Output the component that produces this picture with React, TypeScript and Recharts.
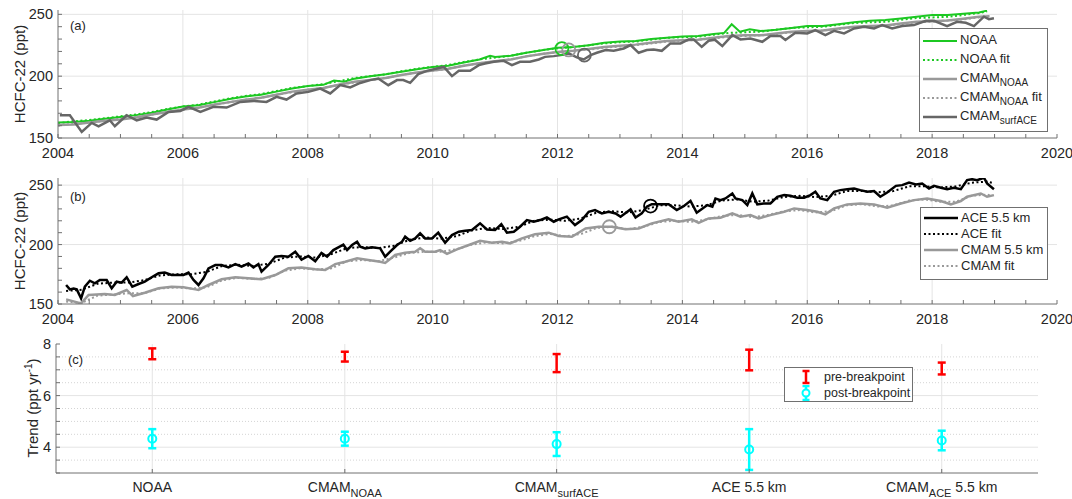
import React from 'react';
import { ComposedChart, Line, Scatter, ErrorBar, XAxis, YAxis, ReferenceLine } from 'recharts';

type Pt = [number, number];

const FONT = '"Liberation Sans", Arial, Helvetica, sans-serif';
const INK = '#262626';
const AXIS = '#707070';
const GRID = '#e4e4e4';
const GREEN = '#1cc822';
const LIGHT = '#999999';
const DARK = '#666666';
const RED = '#ff0000';
const CYAN = '#00ffff';

// ---- panel (a): surface HCFC-22 ----
const noaa: Pt[] = [
  [2004.0, 162.5], [2004.25, 163.0], [2004.5, 164.0], [2004.75, 165.5], [2005.0, 167.0], [2005.25, 168.5],
  [2005.5, 170.5], [2005.75, 173.0], [2006.0, 175.5], [2006.25, 176.5], [2006.5, 179.0], [2006.75, 181.5],
  [2007.0, 183.5], [2007.25, 185.0], [2007.5, 187.5], [2007.75, 190.0], [2008.0, 192.0], [2008.25, 193.0],
  [2008.42, 196.5], [2008.58, 195.5], [2008.75, 198.0], [2009.0, 200.0], [2009.25, 201.5], [2009.5, 203.5],
  [2009.75, 205.5], [2010.0, 207.5], [2010.25, 208.5], [2010.5, 211.0], [2010.75, 213.5], [2010.92, 216.5],
  [2011.0, 215.5], [2011.25, 216.5], [2011.5, 219.0], [2011.75, 221.0], [2012.0, 223.0], [2012.25, 223.5],
  [2012.5, 225.0], [2012.75, 227.0], [2013.0, 228.0], [2013.25, 228.5], [2013.5, 230.0], [2013.75, 231.0],
  [2014.0, 232.0], [2014.25, 232.5], [2014.5, 234.0], [2014.67, 235.0], [2014.79, 242.0], [2014.92, 236.0],
  [2015.08, 238.0], [2015.25, 236.5], [2015.5, 237.5], [2015.75, 239.0], [2016.0, 240.5], [2016.25, 240.5],
  [2016.5, 242.0], [2016.75, 243.5], [2017.0, 244.8], [2017.25, 245.5], [2017.5, 246.7], [2017.75, 248.0],
  [2018.0, 249.4], [2018.25, 249.5], [2018.5, 250.5], [2018.75, 251.5], [2018.88, 253.0],
];
const noaaFit: Pt[] = [
  [2004.0, 162.0], [2004.25, 163.5], [2004.5, 164.5], [2004.75, 166.0], [2005.0, 167.5], [2005.25, 169.0],
  [2005.5, 171.0], [2005.75, 173.5], [2006.0, 175.5], [2006.25, 177.0], [2006.5, 179.5], [2006.75, 182.0],
  [2007.0, 184.0], [2007.25, 185.5], [2007.5, 188.0], [2007.75, 190.5], [2008.0, 192.0], [2008.25, 193.5],
  [2008.5, 196.0], [2008.75, 198.5], [2009.0, 200.0], [2009.25, 201.5], [2009.5, 204.0], [2009.75, 206.0],
  [2010.0, 207.5], [2010.25, 209.0], [2010.5, 211.5], [2010.75, 213.5], [2011.0, 215.0], [2011.25, 216.5],
  [2011.5, 219.0], [2011.75, 221.0], [2012.0, 222.5], [2012.25, 223.5], [2012.5, 225.0], [2012.75, 226.5],
  [2013.0, 227.5], [2013.25, 228.0], [2013.5, 229.5], [2013.75, 231.0], [2014.0, 231.5], [2014.25, 232.0],
  [2014.5, 233.5], [2014.75, 235.0], [2015.0, 235.5], [2015.25, 236.0], [2015.5, 237.5], [2015.75, 239.0],
  [2016.0, 239.5], [2016.25, 240.0], [2016.5, 241.5], [2016.75, 243.0], [2017.0, 243.5], [2017.25, 244.0],
  [2017.5, 245.5], [2017.75, 247.0], [2018.0, 247.5], [2018.25, 248.0], [2018.5, 249.5], [2018.75, 251.0],
  [2018.88, 252.5],
];
const cmamNoaa: Pt[] = [
  [2004.0, 160.5], [2004.25, 161.0], [2004.5, 162.5], [2004.75, 164.0], [2005.0, 165.0], [2005.25, 166.5],
  [2005.5, 169.0], [2005.75, 171.0], [2006.0, 173.0], [2006.25, 174.5], [2006.5, 177.0], [2006.75, 179.0],
  [2007.0, 181.0], [2007.25, 182.5], [2007.5, 185.0], [2007.75, 187.5], [2008.0, 189.0], [2008.25, 190.5],
  [2008.5, 193.0], [2008.75, 195.5], [2009.0, 197.0], [2009.25, 198.5], [2009.5, 201.0], [2009.75, 203.0],
  [2010.0, 204.5], [2010.25, 206.0], [2010.5, 208.5], [2010.75, 210.5], [2011.0, 212.0], [2011.25, 213.5],
  [2011.5, 216.0], [2011.75, 218.0], [2012.0, 219.5], [2012.25, 220.5], [2012.5, 222.0], [2012.75, 223.5],
  [2013.0, 224.5], [2013.25, 225.5], [2013.5, 227.0], [2013.75, 228.5], [2014.0, 229.0], [2014.25, 229.5],
  [2014.5, 231.0], [2014.75, 232.5], [2015.0, 233.0], [2015.25, 233.0], [2015.5, 234.5], [2015.75, 236.0],
  [2016.0, 236.5], [2016.25, 237.0], [2016.5, 238.5], [2016.75, 240.0], [2017.0, 240.5], [2017.25, 241.0],
  [2017.5, 242.5], [2017.75, 244.0], [2018.0, 244.5], [2018.25, 245.0], [2018.5, 246.5], [2018.75, 248.0],
  [2018.92, 248.5],
];
const cmamNoaaFit: Pt[] = [
  [2004.0, 160.0], [2004.25, 161.5], [2004.5, 162.5], [2004.75, 164.0], [2005.0, 165.5], [2005.25, 167.0],
  [2005.5, 169.0], [2005.75, 171.0], [2006.0, 173.0], [2006.25, 174.5], [2006.5, 177.0], [2006.75, 179.0],
  [2007.0, 181.0], [2007.25, 182.5], [2007.5, 185.0], [2007.75, 187.0], [2008.0, 189.0], [2008.25, 190.5],
  [2008.5, 193.0], [2008.75, 195.0], [2009.0, 197.0], [2009.25, 198.5], [2009.5, 201.0], [2009.75, 203.0],
  [2010.0, 204.5], [2010.25, 206.0], [2010.5, 208.5], [2010.75, 210.5], [2011.0, 212.0], [2011.25, 213.5],
  [2011.5, 216.0], [2011.75, 218.0], [2012.0, 219.5], [2012.25, 220.5], [2012.5, 221.5], [2012.75, 223.0],
  [2013.0, 224.0], [2013.25, 225.0], [2013.5, 226.5], [2013.75, 228.0], [2014.0, 228.5], [2014.25, 229.5],
  [2014.5, 230.5], [2014.75, 232.0], [2015.0, 232.5], [2015.25, 233.0], [2015.5, 234.0], [2015.75, 235.5],
  [2016.0, 236.0], [2016.25, 237.0], [2016.5, 238.0], [2016.75, 239.5], [2017.0, 240.0], [2017.25, 241.0],
  [2017.5, 242.0], [2017.75, 243.5], [2018.0, 244.0], [2018.25, 245.0], [2018.5, 246.0], [2018.75, 247.5],
  [2018.92, 248.0],
];
const cmamSurfAce: Pt[] = [
  [2004.03, 168.4], [2004.19, 168.4], [2004.38, 154.9], [2004.54, 162.2], [2004.65, 159.5], [2004.83, 164.3],
  [2004.91, 159.5], [2005.1, 168.4], [2005.26, 164.3], [2005.42, 166.5], [2005.58, 164.9], [2005.77, 171.1],
  [2005.96, 171.9], [2006.09, 175.2], [2006.28, 171.1], [2006.49, 175.2], [2006.7, 174.6], [2006.92, 179.2],
  [2007.13, 180.0], [2007.34, 179.2], [2007.5, 183.3], [2007.66, 181.1], [2007.82, 186.0], [2008.01, 187.3],
  [2008.2, 190.0], [2008.36, 186.0], [2008.52, 192.8], [2008.68, 190.9], [2008.84, 194.5], [2009.0, 196.8],
  [2009.13, 198.1], [2009.29, 192.7], [2009.43, 196.8], [2009.53, 196.8], [2009.64, 194.6], [2009.77, 201.6],
  [2009.91, 204.3], [2010.07, 206.2], [2010.18, 207.5], [2010.31, 200.0], [2010.42, 204.3], [2010.6, 204.3],
  [2010.74, 208.9], [2010.84, 210.3], [2010.98, 211.6], [2011.14, 212.4], [2011.27, 208.9], [2011.4, 211.6],
  [2011.56, 211.6], [2011.7, 213.5], [2011.8, 215.6], [2011.94, 216.2], [2012.05, 217.0], [2012.18, 218.4],
  [2012.31, 215.2], [2012.42, 213.5], [2012.53, 217.0], [2012.63, 218.9], [2012.77, 221.1], [2012.9, 220.5],
  [2013.06, 222.4], [2013.17, 225.1], [2013.3, 218.9], [2013.43, 221.1], [2013.54, 221.6], [2013.67, 220.5],
  [2013.81, 226.5], [2013.97, 226.5], [2014.1, 229.7], [2014.18, 229.7], [2014.31, 223.7], [2014.42, 228.6],
  [2014.52, 229.5], [2014.64, 224.3], [2014.8, 233.2], [2014.93, 229.7], [2015.09, 230.5], [2015.28, 227.8],
  [2015.41, 232.4], [2015.57, 232.4], [2015.65, 229.2], [2015.81, 235.1], [2016.0, 234.6], [2016.13, 237.3],
  [2016.29, 233.2], [2016.43, 236.7], [2016.59, 234.6], [2016.75, 238.6], [2016.91, 240.0], [2017.07, 238.6],
  [2017.2, 241.3], [2017.36, 238.6], [2017.52, 240.5], [2017.71, 241.3], [2017.9, 244.8], [2018.03, 244.8],
  [2018.24, 240.5], [2018.4, 244.0], [2018.54, 243.2], [2018.67, 240.5], [2018.83, 248.1], [2018.91, 246.0],
  [2018.99, 246.8],
];
const noaaBreak: Pt = [2012.07, 222.3];
const cmamNoaaBreak: Pt = [2012.18, 221.2];
const cmamSurfAceBreak: Pt = [2012.43, 217.0];

// ---- panel (b): 5.5 km HCFC-22 ----
const ace: Pt[] = [
  [2004.13, 166.0], [2004.19, 162.3], [2004.25, 163.0], [2004.3, 162.3], [2004.37, 154.7], [2004.43, 164.6],
  [2004.51, 169.6], [2004.59, 167.4], [2004.67, 170.2], [2004.78, 170.2], [2004.86, 163.2], [2004.94, 168.8],
  [2005.02, 168.0], [2005.1, 172.5], [2005.19, 164.6], [2005.29, 166.8], [2005.39, 168.8], [2005.5, 172.5],
  [2005.61, 175.8], [2005.71, 176.4], [2005.82, 174.4], [2005.93, 174.4], [2006.01, 174.4], [2006.09, 176.4],
  [2006.17, 170.2], [2006.25, 166.0], [2006.33, 171.6], [2006.41, 180.0], [2006.52, 182.8], [2006.62, 182.8],
  [2006.73, 180.8], [2006.84, 183.6], [2006.94, 181.4], [2007.05, 184.2], [2007.13, 180.8], [2007.21, 183.6],
  [2007.26, 177.2], [2007.37, 182.8], [2007.48, 189.8], [2007.58, 190.4], [2007.69, 189.8], [2007.8, 194.0],
  [2007.9, 187.4], [2008.01, 190.4], [2008.12, 186.0], [2008.22, 193.0], [2008.31, 189.8], [2008.41, 195.4],
  [2008.49, 197.7], [2008.57, 200.0], [2008.63, 195.4], [2008.71, 199.6], [2008.79, 202.4], [2008.84, 198.2],
  [2008.92, 196.8], [2009.03, 197.7], [2009.16, 196.8], [2009.24, 189.8], [2009.32, 194.0], [2009.43, 199.6],
  [2009.51, 202.4], [2009.56, 206.6], [2009.64, 203.2], [2009.72, 205.2], [2009.8, 209.4], [2009.88, 205.2],
  [2009.99, 205.2], [2010.09, 210.0], [2010.2, 201.6], [2010.31, 208.0], [2010.42, 210.8], [2010.52, 211.6],
  [2010.63, 212.2], [2010.76, 217.8], [2010.87, 212.7], [2011.0, 212.2], [2011.1, 217.2], [2011.19, 210.0],
  [2011.3, 210.8], [2011.4, 215.0], [2011.51, 220.6], [2011.62, 219.2], [2011.72, 220.6], [2011.83, 222.8],
  [2011.94, 219.2], [2012.02, 221.2], [2012.15, 223.5], [2012.28, 216.4], [2012.39, 220.6], [2012.5, 227.6],
  [2012.6, 229.0], [2012.71, 226.2], [2012.82, 227.6], [2012.93, 226.2], [2013.01, 223.4], [2013.08, 226.2],
  [2013.17, 229.6], [2013.25, 222.8], [2013.35, 226.2], [2013.43, 231.8], [2013.51, 234.0], [2013.62, 234.0],
  [2013.78, 234.0], [2013.91, 229.0], [2014.02, 232.3], [2014.13, 236.8], [2014.23, 226.8], [2014.29, 229.0],
  [2014.4, 233.2], [2014.48, 231.8], [2014.53, 238.8], [2014.61, 237.4], [2014.69, 238.8], [2014.8, 243.0],
  [2014.85, 238.8], [2014.96, 237.4], [2015.04, 233.2], [2015.12, 243.0], [2015.2, 233.8], [2015.3, 234.6],
  [2015.41, 234.6], [2015.52, 240.2], [2015.63, 241.6], [2015.73, 241.0], [2015.84, 239.4], [2015.95, 239.4],
  [2016.05, 241.6], [2016.13, 244.4], [2016.21, 238.8], [2016.32, 237.4], [2016.43, 244.4], [2016.53, 245.8],
  [2016.64, 246.6], [2016.75, 247.2], [2016.85, 245.8], [2016.96, 244.4], [2017.07, 245.0], [2017.17, 240.2],
  [2017.28, 243.8], [2017.42, 249.4], [2017.52, 250.0], [2017.63, 252.2], [2017.74, 250.6], [2017.84, 251.4],
  [2017.95, 247.2], [2018.03, 249.4], [2018.14, 247.8], [2018.24, 246.6], [2018.35, 247.8], [2018.46, 246.6],
  [2018.56, 254.2], [2018.64, 255.0], [2018.72, 254.2], [2018.83, 256.2], [2018.88, 251.4], [2018.99, 246.6],
];
const aceFit: Pt[] = [
  [2004.13, 161.0], [2004.38, 162.0], [2004.63, 167.0], [2004.88, 168.0], [2005.13, 168.0], [2005.38, 170.0],
  [2005.63, 174.0], [2005.88, 175.0], [2006.13, 175.0], [2006.38, 177.0], [2006.63, 182.0], [2006.88, 183.0],
  [2007.13, 182.0], [2007.38, 184.0], [2007.63, 189.0], [2007.88, 190.0], [2008.13, 189.0], [2008.38, 192.0],
  [2008.63, 197.0], [2008.88, 198.0], [2009.13, 197.0], [2009.38, 199.0], [2009.63, 204.0], [2009.88, 206.0],
  [2010.13, 205.0], [2010.38, 207.0], [2010.63, 212.0], [2010.88, 214.0], [2011.13, 213.0], [2011.38, 215.0],
  [2011.63, 220.0], [2011.88, 221.0], [2012.13, 220.0], [2012.38, 222.0], [2012.63, 227.0], [2012.88, 228.0],
  [2013.13, 227.0], [2013.38, 229.0], [2013.63, 233.0], [2013.88, 233.0], [2014.13, 232.0], [2014.38, 233.0],
  [2014.63, 237.0], [2014.88, 238.0], [2015.13, 236.0], [2015.38, 237.0], [2015.63, 240.0], [2015.88, 241.0],
  [2016.13, 240.0], [2016.38, 241.0], [2016.63, 245.0], [2016.88, 245.0], [2017.13, 244.0], [2017.38, 245.0],
  [2017.63, 249.0], [2017.88, 249.0], [2018.13, 248.0], [2018.38, 249.0], [2018.63, 252.0], [2018.88, 253.0],
  [2018.96, 252.0],
];
const cmam55: Pt[] = [
  [2004.13, 153.9], [2004.37, 150.5], [2004.49, 157.6], [2004.75, 158.4], [2004.91, 157.6], [2005.1, 161.8],
  [2005.2, 156.7], [2005.39, 159.5], [2005.61, 163.2], [2005.82, 164.6], [2006.01, 164.0], [2006.2, 162.3],
  [2006.25, 161.8], [2006.41, 166.0], [2006.62, 170.8], [2006.84, 172.5], [2007.05, 171.6], [2007.26, 170.8],
  [2007.48, 174.4], [2007.69, 180.0], [2007.9, 180.8], [2008.12, 179.2], [2008.28, 178.6], [2008.44, 183.6],
  [2008.6, 185.6], [2008.79, 188.4], [2008.97, 187.0], [2009.16, 185.6], [2009.24, 184.5], [2009.4, 191.2],
  [2009.56, 193.2], [2009.72, 194.0], [2009.8, 196.9], [2009.88, 194.0], [2010.04, 194.0], [2010.12, 195.4],
  [2010.23, 192.1], [2010.39, 196.0], [2010.58, 199.6], [2010.76, 203.2], [2010.95, 201.6], [2011.11, 202.4],
  [2011.24, 201.0], [2011.43, 205.2], [2011.64, 208.6], [2011.86, 210.0], [2012.02, 207.2], [2012.23, 206.6],
  [2012.45, 213.6], [2012.66, 215.0], [2012.87, 215.0], [2013.09, 212.8], [2013.3, 213.6], [2013.51, 217.8],
  [2013.78, 221.2], [2013.94, 219.2], [2014.15, 221.2], [2014.26, 218.3], [2014.42, 222.0], [2014.61, 222.6],
  [2014.8, 226.2], [2014.93, 223.4], [2015.09, 224.8], [2015.22, 222.0], [2015.41, 224.8], [2015.63, 227.6],
  [2015.79, 230.4], [2016.0, 229.0], [2016.16, 227.6], [2016.29, 225.4], [2016.43, 230.4], [2016.64, 233.8],
  [2016.85, 234.6], [2017.07, 233.8], [2017.28, 231.0], [2017.5, 234.6], [2017.71, 237.4], [2017.92, 238.8],
  [2018.14, 236.6], [2018.3, 233.8], [2018.46, 236.6], [2018.56, 240.2], [2018.78, 243.0], [2018.88, 240.2],
  [2018.99, 241.6],
];
const cmamFit: Pt[] = [
  [2004.13, 152.0], [2004.38, 151.0], [2004.63, 157.0], [2004.88, 158.0], [2005.13, 159.0], [2005.38, 159.0],
  [2005.63, 163.0], [2005.88, 164.0], [2006.13, 163.0], [2006.38, 164.0], [2006.63, 170.0], [2006.88, 172.0],
  [2007.13, 171.0], [2007.38, 172.0], [2007.63, 178.0], [2007.88, 180.0], [2008.13, 179.0], [2008.38, 180.0],
  [2008.63, 186.0], [2008.88, 187.0], [2009.13, 186.0], [2009.38, 189.0], [2009.63, 193.0], [2009.88, 194.0],
  [2010.13, 194.0], [2010.38, 196.0], [2010.63, 200.0], [2010.88, 202.0], [2011.13, 201.0], [2011.38, 203.0],
  [2011.63, 207.0], [2011.88, 209.0], [2012.13, 207.0], [2012.38, 209.0], [2012.63, 214.0], [2012.88, 215.0],
  [2013.13, 213.0], [2013.38, 215.0], [2013.63, 219.0], [2013.88, 220.0], [2014.13, 219.0], [2014.38, 221.0],
  [2014.63, 224.0], [2014.88, 225.0], [2015.13, 223.0], [2015.38, 225.0], [2015.63, 228.0], [2015.88, 229.0],
  [2016.13, 227.0], [2016.38, 228.0], [2016.63, 233.0], [2016.88, 234.0], [2017.13, 232.0], [2017.38, 233.0],
  [2017.63, 237.0], [2017.88, 238.0], [2018.13, 236.0], [2018.38, 236.0], [2018.63, 241.0], [2018.88, 242.0],
  [2018.96, 241.0],
];
const aceBreak: Pt = [2013.49, 232.4];
const cmamBreak: Pt = [2012.83, 215.0];

// ---- panel (c): trends ----
const categoryPos = [1, 2, 3.1, 4.1, 5.1];
const categoryLabels: [string, string, string][] = [
  ['NOAA', '', ''],
  ['CMAM', 'NOAA', ''],
  ['CMAM', 'surfACE', ''],
  ['ACE 5.5 km', '', ''],
  ['CMAM', 'ACE', ' 5.5 km'],
];
const preTrend = [7.62, 7.51, 7.26, 7.38, 7.05];
const preErr = [0.21, 0.19, 0.35, 0.4, 0.23];
const postTrend = [4.33, 4.33, 4.12, 3.91, 4.26];
const postErr = [0.37, 0.27, 0.46, 0.79, 0.38];

// axis ticks
const yearMajor = [2004, 2006, 2008, 2010, 2012, 2014, 2016, 2018, 2020];
const yearMinor = Array.from({ length: 33 }, (_, i) => 2004 + i * 0.5);
const pptTicks = [150, 160, 170, 180, 190, 200, 210, 220, 230, 240, 250];
const pptLabeled = [150, 200, 250];
const trendTicks = [3, 3.5, 4, 4.5, 5, 5.5, 6, 6.5, 7, 7.5, 8];
const trendLabeled = [4, 6, 8];

type Series = {
  key: string;
  label: React.ReactNode;
  pts: Pt[];
  color: string;
  width: number;
  dotted?: boolean;
  brk?: Pt;
};

const Sub = ({ children }: { children: React.ReactNode }) => (
  <span style={{ fontSize: 10, position: 'relative', top: 4 }}>{children}</span>
);

const seriesA: Series[] = [
  { key: 'noaa', label: 'NOAA', pts: noaa, color: GREEN, width: 2, brk: noaaBreak },
  { key: 'noaaFit', label: 'NOAA fit', pts: noaaFit, color: GREEN, width: 2, dotted: true },
  { key: 'cmamNoaa', label: <>CMAM<Sub>NOAA</Sub></>, pts: cmamNoaa, color: LIGHT, width: 2.5, brk: cmamNoaaBreak },
  { key: 'cmamNoaaFit', label: <>CMAM<Sub>NOAA</Sub> fit</>, pts: cmamNoaaFit, color: LIGHT, width: 2, dotted: true },
  { key: 'cmamSurf', label: <>CMAM<Sub>surfACE</Sub></>, pts: cmamSurfAce, color: DARK, width: 2.5, brk: cmamSurfAceBreak },
];

const seriesB: Series[] = [
  { key: 'ace', label: 'ACE 5.5 km', pts: ace, color: '#000000', width: 2.5, brk: aceBreak },
  { key: 'aceFit', label: 'ACE fit', pts: aceFit, color: '#000000', width: 2, dotted: true },
  { key: 'cmam55', label: 'CMAM 5.5 km', pts: cmam55, color: LIGHT, width: 2.5, brk: cmamBreak },
  { key: 'cmamFit', label: 'CMAM fit', pts: cmamFit, color: LIGHT, width: 2, dotted: true },
];

const toRows = (pts: Pt[]) => pts.map(([t, v]) => ({ t, v }));
const tickFont = { fill: INK, fontSize: 14.5, fontFamily: FONT };

function TimePanel({
  top, height, plotTop, plotBottom, yMax, series,
}: { top: number; height: number; plotTop: number; plotBottom: number; yMax: number; series: Series[] }) {
  return (
    <div style={{ position: 'absolute', left: 0, top }}>
      <ComposedChart width={1072} height={height} margin={{ top: plotTop, right: 15, bottom: 0, left: 0 }}>
        <XAxis
          xAxisId="b" type="number" dataKey="t" domain={[2004, 2020]} allowDataOverflow
          ticks={yearMinor} interval={0} tickFormatter={(v) => (yearMajor.includes(v) ? String(v) : '')}
          height={height - plotBottom} tickSize={-4} tickMargin={14} stroke={AXIS} tick={tickFont}
        />
        <XAxis
          xAxisId="t" orientation="top" type="number" dataKey="t" domain={[2004, 2020]} allowDataOverflow
          ticks={yearMinor} interval={0} tick={false} height={0} tickSize={-4} stroke={AXIS}
        />
        <YAxis
          yAxisId="l" type="number" domain={[150, yMax]} allowDataOverflow ticks={pptTicks} interval={0}
          tickFormatter={(v) => (pptLabeled.includes(v) ? String(v) : '')}
          width={58} tickSize={-4} tickMargin={9} stroke={AXIS} tick={tickFont}
        />
        <YAxis
          yAxisId="r" orientation="right" type="number" domain={[150, yMax]} allowDataOverflow ticks={pptTicks}
          interval={0} tick={false} width={0} tickSize={-4} stroke={AXIS}
        />
        {yearMajor.slice(1, -1).map((yr) => (
          <ReferenceLine key={yr} xAxisId="b" yAxisId="l" x={yr} stroke={GRID} />
        ))}
        {[200, 250].map((v) => (
          <ReferenceLine key={v} xAxisId="b" yAxisId="l" y={v} stroke={GRID} />
        ))}
        {series.map((s) => (
          <Line
            key={s.key} xAxisId="b" yAxisId="l" data={toRows(s.pts)} dataKey="v" type="linear"
            stroke={s.color} strokeWidth={s.width} strokeDasharray={s.dotted ? '2 2.5' : undefined}
            dot={false} activeDot={false} isAnimationActive={false}
          />
        ))}
        {series.filter((s) => s.brk).map((s) => (
          <Line
            key={s.key + 'Brk'} xAxisId="b" yAxisId="l" data={toRows([s.brk as Pt])} dataKey="v"
            stroke="none" dot={{ r: 6.5, stroke: s.color, strokeWidth: 1.8, fill: 'none' }}
            activeDot={false} isAnimationActive={false}
          />
        ))}
      </ComposedChart>
    </div>
  );
}

function LegendBox({
  left, top, width, rowH, items,
}: { left: number; top: number; width: number; rowH: number; items: Series[] }) {
  return (
    <div
      style={{
        position: 'absolute', left, top, width, background: '#fff', border: `1px solid ${AXIS}`,
        fontFamily: FONT, fontSize: 13, color: INK, padding: '2px 0 5px 0', boxSizing: 'border-box',
      }}
    >
      {items.map((s) => (
        <div key={s.key} style={{ display: 'flex', alignItems: 'center', height: rowH, whiteSpace: 'nowrap' }}>
          <svg width={36} height={10} style={{ marginLeft: 3, marginRight: 1, flex: 'none' }}>
            <line
              x1={0} y1={5} x2={34} y2={5} stroke={s.color} strokeWidth={s.width}
              strokeDasharray={s.dotted ? '2 2.5' : undefined}
            />
          </svg>
          <span style={{ position: 'relative', top: -1 }}>{s.label}</span>
        </div>
      ))}
    </div>
  );
}

const CategoryTick = (props: any) => {
  const { x, y, payload } = props;
  const idx = categoryPos.indexOf(payload.value);
  if (idx < 0) return null;
  const [main, sub, tail] = categoryLabels[idx];
  return (
    <text x={x} y={y + 19} textAnchor="middle" fill={INK} fontSize={14} fontFamily={FONT}>
      <tspan>{main}</tspan>
      {sub ? <tspan dy={5} fontSize={11}>{sub}</tspan> : null}
      {tail ? <tspan dy={-5}>{tail}</tspan> : null}
    </text>
  );
};

function TrendPanel() {
  const pre = categoryPos.map((x, i) => ({ x, y: preTrend[i], e: preErr[i] }));
  const post = categoryPos.map((x, i) => ({ x, y: postTrend[i], e: postErr[i] }));
  return (
    <div style={{ position: 'absolute', left: 0, top: 330 }}>
      <ComposedChart width={1072} height={169} margin={{ top: 14, right: 34, bottom: 0, left: 0 }}>
        <XAxis
          xAxisId="b" type="number" dataKey="x" domain={[0.5, 5.6]} allowDataOverflow ticks={categoryPos}
          interval={0} tick={<CategoryTick />} height={26} tickSize={-4} tickMargin={4} stroke={AXIS}
        />
        <XAxis
          xAxisId="t" orientation="top" type="number" dataKey="x" domain={[0.5, 5.6]} allowDataOverflow
          ticks={categoryPos} interval={0} tick={false} height={0} tickSize={-4} stroke={AXIS}
        />
        <YAxis
          yAxisId="l" type="number" dataKey="y" domain={[3, 8]} allowDataOverflow ticks={trendTicks} interval={0}
          tickFormatter={(v) => (trendLabeled.includes(v) ? String(v) : '')}
          width={56} tickSize={-4} tickMargin={9} stroke={AXIS} tick={tickFont}
        />
        <YAxis
          yAxisId="r" orientation="right" type="number" dataKey="y" domain={[3, 8]} allowDataOverflow
          ticks={trendTicks} interval={0} tick={false} width={0} tickSize={-4} stroke={AXIS}
        />
        {trendTicks.filter((v) => v > 3 && v < 8).map((v) => (
          <ReferenceLine
            key={v} xAxisId="b" yAxisId="l" y={v} stroke={trendLabeled.includes(v) ? GRID : '#d4d4d4'}
            strokeDasharray={trendLabeled.includes(v) ? undefined : '1 2'}
          />
        ))}
        {categoryPos.map((x) => (
          <ReferenceLine key={x} xAxisId="b" yAxisId="l" x={x} stroke={GRID} />
        ))}
        <Scatter
          xAxisId="b" yAxisId="l" data={pre} dataKey="y" isAnimationActive={false}
          shape={() => <g />}
        >
          <ErrorBar dataKey="e" direction="y" width={4} stroke={RED} strokeWidth={2.5} isAnimationActive={false} />
        </Scatter>
        <Scatter
          xAxisId="b" yAxisId="l" data={post} dataKey="y" isAnimationActive={false}
          shape={(p: any) => <circle cx={p.cx} cy={p.cy} r={4} fill="none" stroke={CYAN} strokeWidth={2} />}
        >
          <ErrorBar dataKey="e" direction="y" width={4} stroke={CYAN} strokeWidth={2.5} isAnimationActive={false} />
        </Scatter>
      </ComposedChart>
    </div>
  );
}

export default function App() {
  return (
    <div style={{ position: 'absolute', left: 0, top: 0, width: 1072, height: 499, background: '#fff' }}>
      <TimePanel top={0} height={165} plotTop={10} plotBottom={138} yMax={253.5} series={seriesA} />
      <TimePanel top={165} height={165} plotTop={13} plotBottom={139} yMax={256} series={seriesB} />
      <TrendPanel />

      <LegendBox left={919} top={28} width={129} rowH={19} items={seriesA} />
      <LegendBox left={920} top={207} width={128} rowH={16} items={seriesB} />

      <div
        style={{
          position: 'absolute', left: 784, top: 367, width: 129, height: 35, background: '#fff',
          border: `1px solid ${AXIS}`, boxSizing: 'border-box', fontFamily: FONT, fontSize: 12.5, color: INK,
          paddingTop: 1,
        }}
      >
        {[
          { label: 'pre-breakpoint', color: RED, circle: false, h: 6 },
          { label: 'post-breakpoint', color: CYAN, circle: true, h: 7 },
        ].map((it) => (
          <div key={it.label} style={{ display: 'flex', alignItems: 'center', height: 16, whiteSpace: 'nowrap' }}>
            <svg width={24} height={16} style={{ marginLeft: 12, marginRight: 3, flex: 'none' }}>
              <line x1={9} y1={8 - it.h} x2={9} y2={8 + it.h} stroke={it.color} strokeWidth={2.5} />
              <line x1={5.5} y1={8 - it.h} x2={12.5} y2={8 - it.h} stroke={it.color} strokeWidth={2.5} />
              <line x1={5.5} y1={8 + it.h} x2={12.5} y2={8 + it.h} stroke={it.color} strokeWidth={2.5} />
              {it.circle ? <circle cx={9} cy={8} r={3.5} fill="#fff" stroke={it.color} strokeWidth={2} /> : null}
            </svg>
            <span>{it.label}</span>
          </div>
        ))}
      </div>

      <svg
        width={1072} height={499}
        style={{ position: 'absolute', left: 0, top: 0, pointerEvents: 'none' }}
        fontFamily={FONT} fill={INK}
      >
        <text x={70} y={30} fontSize={13}>(a)</text>
        <text x={70} y={201} fontSize={13}>(b)</text>
        <text x={68} y={364} fontSize={13}>(c)</text>
        <text transform="translate(25,74) rotate(-90)" textAnchor="middle" fontSize={15}>HCFC-22 (ppt)</text>
        <text transform="translate(25,241) rotate(-90)" textAnchor="middle" fontSize={15}>HCFC-22 (ppt)</text>
        <text transform="translate(38,408) rotate(-90)" textAnchor="middle" fontSize={15}>
          <tspan>Trend (ppt yr</tspan>
          <tspan dy={-6} fontSize={10}>-1</tspan>
          <tspan dy={6}>)</tspan>
        </text>
      </svg>
    </div>
  );
}
